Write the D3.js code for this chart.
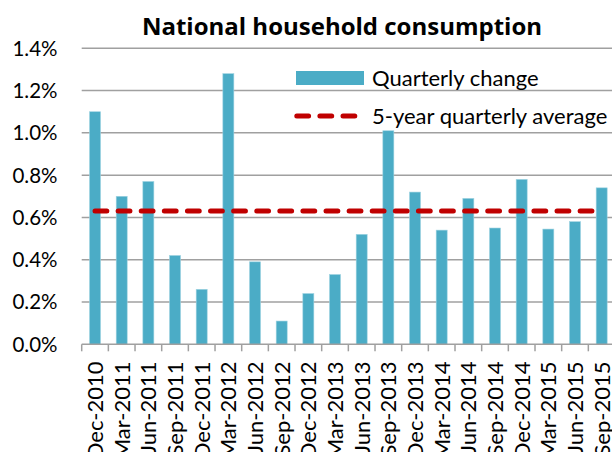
<!DOCTYPE html>
<html>
<head>
<meta charset="utf-8">
<script src="https://cdn.jsdelivr.net/npm/d3@7"></script>
<style>
  html, body { margin: 0; padding: 0; background: #fff; }
  svg { display: block; font-family: Lato, "Open Sans", sans-serif; }
</style>
</head>
<body>
<div id="chart"></div>
<script>
(function () {
  'use strict';

  var quarters = ['Dec-2010', 'Mar-2011', 'Jun-2011', 'Sep-2011', 'Dec-2011', 'Mar-2012',
    'Jun-2012', 'Sep-2012', 'Dec-2012', 'Mar-2013', 'Jun-2013', 'Sep-2013', 'Dec-2013',
    'Mar-2014', 'Jun-2014', 'Sep-2014', 'Dec-2014', 'Mar-2015', 'Jun-2015', 'Sep-2015'];
  var quarterlyChange = [1.10, 0.70, 0.77, 0.42, 0.26, 1.28, 0.39, 0.11, 0.24, 0.33,
    0.52, 1.01, 0.72, 0.54, 0.69, 0.55, 0.78, 0.545, 0.58, 0.74];
  var fiveYearAverage = 0.63;
  var yTicks = [0, 0.2, 0.4, 0.6, 0.8, 1.0, 1.2, 1.4];
  var legendLabels = ['Quarterly change', '5-year quarterly average'];

  var width = 612;
  var height = 452;
  var barColor = '#4bacc6';
  var lineColor = '#c00000';
  var gridColor = '#a0a0a0';

  var svg = d3.select('#chart').append('svg')
    .attr('width', width).attr('height', height);

  var x = d3.scaleBand().domain(quarters).range([81.7, 615])
    .paddingInner(0.5875).paddingOuter(0.29375);
  var y = d3.scaleLinear().domain([0, 1.4]).range([344.3, 48.3]);

  // gridlines
  svg.append('g').selectAll('line').data(yTicks.slice(1)).join('line')
    .attr('x1', 81.7).attr('x2', width)
    .attr('y1', function (d) { return y(d); }).attr('y2', function (d) { return y(d); })
    .attr('stroke', gridColor).attr('stroke-width', 1.5);

  // y labels
  svg.append('g').attr('font-size', 20.5).attr('fill', '#000').attr('text-anchor', 'end')
    .selectAll('text').data(yTicks).join('text')
    .attr('x', 57.5).attr('y', function (d) { return y(d); }).attr('dy', '0.36em')
    .text(function (d) { return d3.format('.1f')(d) + '%'; });

  // bars
  svg.append('g').selectAll('rect').data(quarters).join('rect')
    .attr('x', function (d) { return x(d); })
    .attr('y', function (d, i) { return y(quarterlyChange[i]); })
    .attr('width', x.bandwidth())
    .attr('height', function (d, i) { return y(0) - y(quarterlyChange[i]); })
    .attr('fill', barColor)
    .attr('stroke', '#9ed3e1').attr('stroke-width', 0.6);

  // x axis line + ticks between categories
  var half = (x.step() - x.bandwidth()) / 2;
  var bounds = quarters.map(function (d) { return x(d) - half; });
  bounds.push(x(quarters[quarters.length - 1]) + x.bandwidth() + half);
  svg.append('line').attr('x1', 81.7).attr('x2', width)
    .attr('y1', y(0)).attr('y2', y(0))
    .attr('stroke', gridColor).attr('stroke-width', 1.5);
  svg.append('g').selectAll('line').data(bounds).join('line')
    .attr('x1', function (d) { return d; }).attr('x2', function (d) { return d; })
    .attr('y1', y(0)).attr('y2', y(0) + 7)
    .attr('stroke', gridColor).attr('stroke-width', 1.5);

  // x labels (run off the bottom edge, as in the original)
  svg.append('g').attr('font-size', 22).attr('fill', '#000').attr('text-anchor', 'end')
    .selectAll('text').data(quarters).join('text')
    .attr('transform', function (d) {
      return 'translate(' + (x(d) + x.bandwidth() / 2) + ',361.5) rotate(-90)';
    })
    .attr('dy', '0.36em')
    .text(function (d) { return d; });

  // average line
  var first = quarters[0], last = quarters[quarters.length - 1];
  svg.append('line')
    .attr('x1', x(first) + x.bandwidth() / 2).attr('x2', x(last) + x.bandwidth() / 2)
    .attr('y1', y(fiveYearAverage)).attr('y2', y(fiveYearAverage))
    .attr('stroke', lineColor).attr('stroke-width', 5)
    .attr('stroke-linecap', 'round').attr('stroke-dasharray', '11.8,11.3');

  // legend
  var legend = svg.append('g');
  legend.append('rect').attr('x', 296).attr('y', 71).attr('width', 68).attr('height', 14)
    .attr('fill', barColor);
  legend.append('line').attr('x1', 296.8).attr('x2', 357).attr('y1', 116).attr('y2', 116)
    .attr('stroke', lineColor).attr('stroke-width', 5)
    .attr('stroke-linecap', 'round').attr('stroke-dasharray', '11.8,11.3');
  legend.selectAll('text').data(legendLabels).join('text')
    .attr('x', 372).attr('y', function (d, i) { return i ? 116 : 78; })
    .attr('dy', '0.36em').attr('font-size', 22).attr('fill', '#000')
    .text(function (d) { return d; });

  // title
  svg.append('text').attr('x', 342).attr('y', 35).attr('text-anchor', 'middle')
    .attr('font-family', '"Open Sans", Lato, sans-serif')
    .attr('font-size', 24).attr('font-weight', 'bold').attr('fill', '#000')
    .text('National household consumption');
})();
</script>
</body>
</html>
